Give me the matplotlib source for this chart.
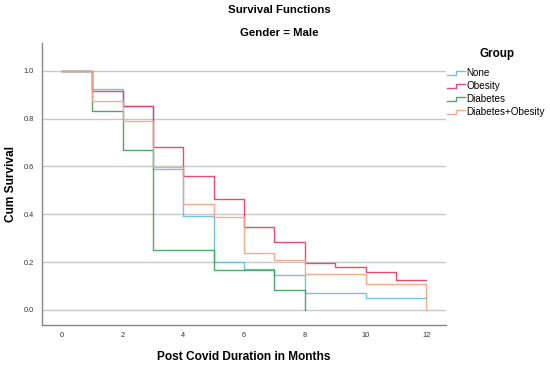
import matplotlib
matplotlib.use("Agg")
import matplotlib.pyplot as plt
from matplotlib.legend_handler import HandlerBase
from matplotlib.lines import Line2D

plt.rcParams["font.family"] = ["Liberation Sans", "DejaVu Sans"]

# Kaplan-Meier Schaetzer
months = [0, 1, 2, 3, 4, 5, 6, 7, 8, 9, 10, 11, 12]
surv_none = [1.0, 0.925, 0.854, 0.588, 0.393, 0.200, 0.170, 0.145, 0.072, 0.072, 0.049, 0.049, 0.049]
surv_obesity = [1.0, 0.917, 0.854, 0.680, 0.561, 0.465, 0.347, 0.284, 0.195, 0.180, 0.159, 0.125, 0.125]
months_diab = [0, 1, 2, 3, 4, 5, 6, 7, 8]
surv_diab = [1.0, 0.833, 0.667, 0.250, 0.250, 0.167, 0.167, 0.083, 0.0]
surv_diab_ob = [1.0, 0.875, 0.791, 0.599, 0.443, 0.390, 0.237, 0.208, 0.152, 0.152, 0.110, 0.110, 0.0]

groups = ["None", "Obesity", "Diabetes", "Diabetes+Obesity"]
colors = ["#62bfe0", "#e63a62", "#3a9f5c", "#f8a283"]
xticks = [0, 2, 4, 6, 8, 10, 12]
yticks = [0.0, 0.2, 0.4, 0.6, 0.8, 1.0]


class StepHandler(HandlerBase):
    # kleine Treppe als Legendensymbol (wie SPSS)
    def create_artists(self, legend, orig_handle, xdescent, ydescent,
                       width, height, fontsize, trans):
        x0, y0 = -xdescent, -ydescent
        xm = x0 + width * 0.5
        ys_lo, ys_hi = y0 + height * 0.2, y0 + height * 0.75
        line = Line2D([x0, xm, xm, x0 + width], [ys_lo, ys_lo, ys_hi, ys_hi],
                      color=orig_handle.get_color(), lw=1.0, alpha=0.9)
        line.set_transform(trans)
        return [line]


fig = plt.figure(figsize=(5.5, 3.65), dpi=100)
ax = fig.add_axes([0.0764, 0.1096, 0.7346, 0.7724])

series = [(months, surv_none), (months, surv_obesity),
          (months_diab, surv_diab), (months, surv_diab_ob)]
handles = []
for (x, y), name, c in zip(series, groups, colors):
    h, = ax.step(x, y, where="post", color=c, lw=1.0, alpha=0.9, label=name)
    handles.append(h)

ax.set_xlim(-0.65, 12.65)
ax.set_ylim(-0.063, 1.116)
ax.set_xticks(xticks)
ax.set_xticklabels([str(t) for t in xticks])
ax.set_yticks(yticks)
ax.set_yticklabels([f"{t:.1f}" for t in yticks])
ax.tick_params(length=0, labelsize=5.3, labelcolor="#333333")
ax.tick_params(axis="x", pad=5)
ax.tick_params(axis="y", pad=6)
ax.yaxis.grid(True, color="#c8c8c8", lw=1)
ax.set_axisbelow(True)
for s in ["top", "right"]:
    ax.spines[s].set_visible(False)
for s in ["left", "bottom"]:
    ax.spines[s].set_color("#888888")
    ax.spines[s].set_linewidth(1)

ax.set_xlabel("Post Covid Duration in Months", fontsize=8.6, fontweight="bold", va="center")
ax.xaxis.set_label_coords(0.5, -0.112)
ax.set_ylabel("Cum Survival", fontsize=8.6, fontweight="bold", va="center")
ax.yaxis.set_label_coords(-0.077, 0.5)

fig.text(0.5085, 0.972, "Survival Functions", ha="center", va="center",
         fontsize=8.2, fontweight="bold")
fig.text(0.5085, 0.909, "Gender = Male", ha="center", va="center",
         fontsize=8.2, fontweight="bold")
fig.text(497 / 550, 1 - 54 / 365, "Group", ha="center", va="center",
         fontsize=8.4, fontweight="bold")

leg = fig.legend(handles, groups, loc="upper left",
                 bbox_to_anchor=(447 / 550, 1 - 68.5 / 365), frameon=False,
                 fontsize=7.1, handlelength=1.85, handletextpad=0.15,
                 labelspacing=0.3, borderpad=0, borderaxespad=0,
                 handler_map={Line2D: StepHandler()})

fig.savefig("out.png", dpi=100)
